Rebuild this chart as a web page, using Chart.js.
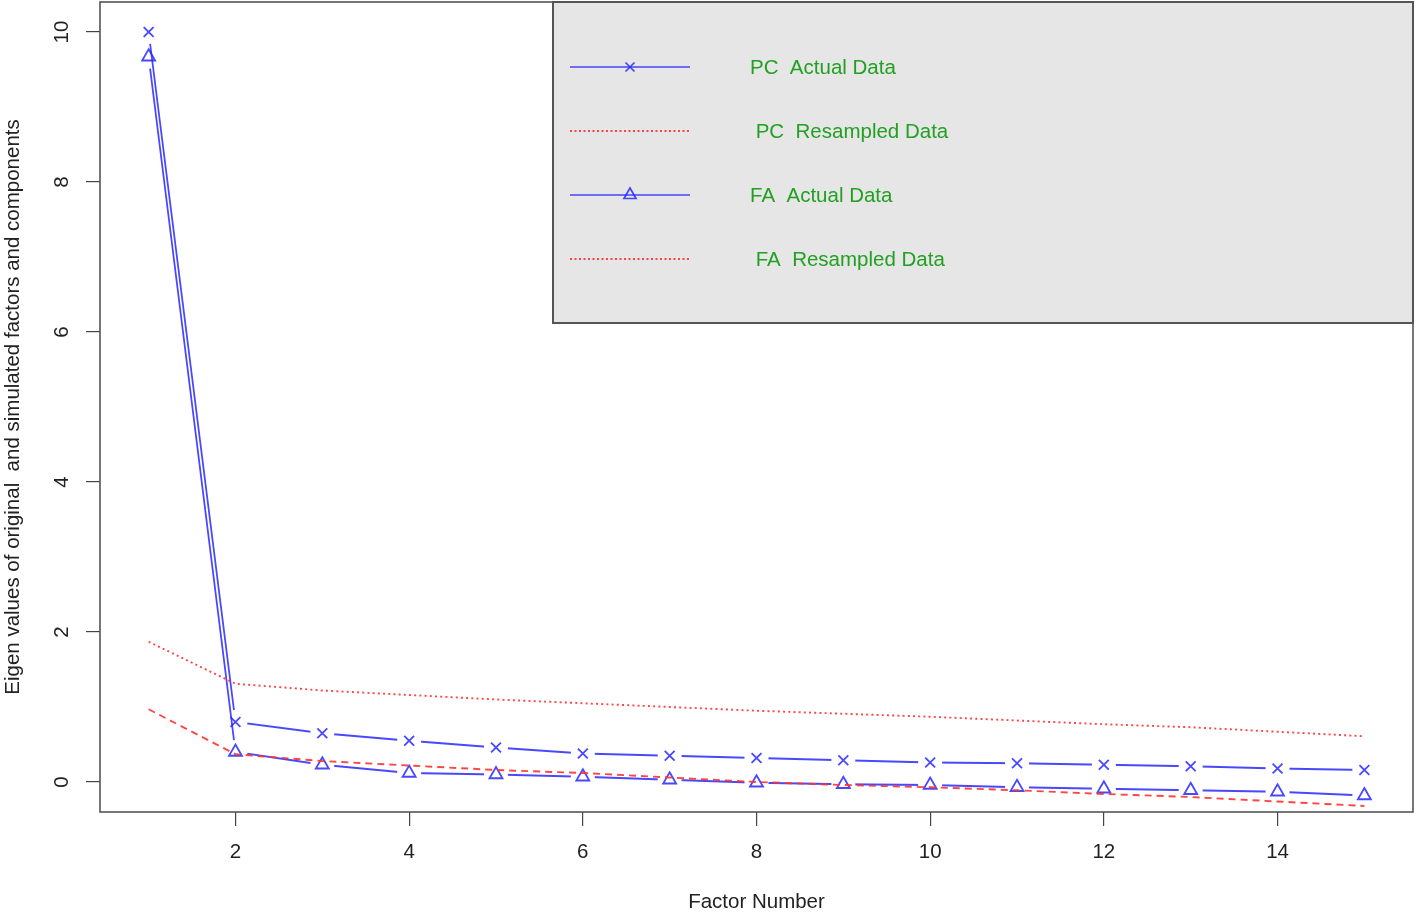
<!DOCTYPE html>
<html>
<head>
<meta charset="utf-8">
<script src="https://cdn.jsdelivr.net/npm/chart.js@4.4.1/dist/chart.umd.min.js"></script>
<style>
  html, body { margin: 0; padding: 0; background: #ffffff; }
  #wrap { width: 1418px; height: 912px; position: relative; }
</style>
</head>
<body>
<div id="wrap"><canvas id="c"></canvas></div>
<script>
// ---- data ----
const factorNumbers = [1, 2, 3, 4, 5, 6, 7, 8, 9, 10, 11, 12, 13, 14, 15];
const pcActual     = [10.00, 0.80, 0.65, 0.55, 0.46, 0.38, 0.35, 0.32, 0.29, 0.26, 0.25, 0.23, 0.21, 0.18, 0.16];
const pcResampled  = [1.87, 1.31, 1.22, 1.16, 1.10, 1.05, 1.00, 0.95, 0.91, 0.87, 0.82, 0.77, 0.73, 0.67, 0.61];
const faActual     = [9.67, 0.40, 0.23, 0.12, 0.10, 0.07, 0.03, -0.01, -0.03, -0.04, -0.07, -0.09, -0.11, -0.13, -0.18];
const faResampled  = [0.97, 0.37, 0.28, 0.22, 0.16, 0.12, 0.06, 0.00, -0.04, -0.07, -0.11, -0.16, -0.20, -0.26, -0.32];
const xTickValues  = [2, 4, 6, 8, 10, 12, 14];
const yTickValues  = [0, 2, 4, 6, 8, 10];
const legendLabels = ['PC  Actual Data', ' PC  Resampled Data', 'FA  Actual Data', ' FA  Resampled Data'];
const xAxisTitle = 'Factor Number';
const yAxisTitle = 'Eigen values of original  and simulated factors and components';

const toPoints = (vals) => vals.map((v, i) => ({ x: factorNumbers[i], y: v }));

const FONT = '"Liberation Sans", Arial, Helvetica, sans-serif';
const BLUE = 'rgba(40,40,255,0.85)';
const RED = 'rgba(255,50,50,0.9)';

// clip circular gaps around points (R type="b" look)
const gapPlugin = {
  id: 'gapPlugin',
  beforeDatasetDraw(chart, args) {
    const ds = chart.data.datasets[args.index];
    if (!ds.gapRadius) return;
    const ctx = chart.ctx;
    const r = ds.gapRadius;
    ctx.save();
    ctx.beginPath();
    ctx.rect(0, 0, chart.width, chart.height);
    args.meta.data.forEach(el => {
      ctx.moveTo(el.x + r, el.y);
      ctx.arc(el.x, el.y, r, 0, Math.PI * 2);
    });
    ctx.clip('evenodd');
  },
  afterDatasetDraw(chart, args) {
    const ds = chart.data.datasets[args.index];
    if (!ds.gapRadius) return;
    chart.ctx.restore();
  }
};

// plot box + R-style legend box
const boxLegendPlugin = {
  id: 'boxLegend',
  afterDraw(chart) {
    const ctx = chart.ctx;
    const a = chart.chartArea;
    ctx.save();
    // legend box
    const lx = 553, ly = a.top, lw = a.right - 553, lh = 321;
    ctx.fillStyle = '#e6e6e6';
    ctx.fillRect(lx, ly, lw, lh);
    ctx.strokeStyle = '#555555';
    ctx.lineWidth = 2;
    ctx.strokeRect(lx, ly, lw, lh);
    // plot box
    ctx.lineWidth = 1.6;
    ctx.strokeStyle = '#555555';
    ctx.strokeRect(a.left, a.top, a.right - a.left, a.bottom - a.top);

    const rows = [67, 131, 195, 259];
    const styles = [
      { color: BLUE, dash: [], marker: 'x' },
      { color: RED, dash: [2, 2.5], marker: null },
      { color: BLUE, dash: [], marker: 'tri' },
      { color: RED, dash: [2, 2.5], marker: null }
    ];
    rows.forEach((y, i) => {
      const s = styles[i];
      ctx.beginPath();
      ctx.setLineDash(s.dash);
      ctx.strokeStyle = s.color;
      ctx.lineWidth = s.dash.length ? 1.8 : 1.7;
      ctx.moveTo(570, y);
      ctx.lineTo(690, y);
      ctx.stroke();
      ctx.setLineDash([]);
      if (s.marker === 'x') {
        const h = 4.5;
        ctx.beginPath();
        ctx.moveTo(630 - h, y - h); ctx.lineTo(630 + h, y + h);
        ctx.moveTo(630 - h, y + h); ctx.lineTo(630 + h, y - h);
        ctx.lineWidth = 1.7;
        ctx.stroke();
      } else if (s.marker === 'tri') {
        ctx.beginPath();
        ctx.moveTo(630, y - 7);
        ctx.lineTo(636, y + 3.5);
        ctx.lineTo(624, y + 3.5);
        ctx.closePath();
        ctx.lineWidth = 1.7;
        ctx.stroke();
      }
      ctx.fillStyle = '#22a022';
      ctx.font = '20.5px ' + FONT;
      ctx.textAlign = 'left';
      ctx.textBaseline = 'middle';
      ctx.fillText(legendLabels[i], 750, y + 1);
    });
    ctx.restore();
  }
};

const zeroPad = (s) => { s.paddingTop = 0; s.paddingBottom = 0; s.paddingLeft = 0; s.paddingRight = 0; };

const ctx = document.getElementById('c').getContext('2d');
new Chart(ctx, {
  type: 'line',
  data: {
    datasets: [
      { label: 'PC Resampled', data: toPoints(pcResampled), borderColor: RED, borderWidth: 1.9,
        borderDash: [2, 3.2], pointRadius: 0, fill: false, tension: 0 },
      { label: 'FA Resampled', data: toPoints(faResampled), borderColor: RED, borderWidth: 1.9,
        borderDash: [7, 5], pointRadius: 0, fill: false, tension: 0 },
      { label: 'PC Actual line', data: toPoints(pcActual), borderColor: BLUE, borderWidth: 1.8,
        pointRadius: 0, fill: false, tension: 0, gapRadius: 12 },
      { label: 'FA Actual line', data: toPoints(faActual), borderColor: BLUE, borderWidth: 1.8,
        pointRadius: 0, fill: false, tension: 0, gapRadius: 12 },
      { label: 'PC Actual', data: toPoints(pcActual), showLine: false, pointStyle: 'crossRot',
        pointRadius: 7, pointBorderColor: BLUE, pointBorderWidth: 1.8, pointBackgroundColor: 'rgba(0,0,0,0)' },
      { label: 'FA Actual', data: toPoints(faActual), showLine: false, pointStyle: 'triangle',
        pointRadius: 7.5, pointBorderColor: BLUE, pointBorderWidth: 1.8, pointBackgroundColor: 'rgba(0,0,0,0)' }
    ]
  },
  options: {
    responsive: true,
    maintainAspectRatio: false,
    animation: false,
    events: [],
    layout: { autoPadding: false, padding: { left: 0, right: 5, top: 2, bottom: 0 } },
    plugins: { legend: { display: false }, tooltip: { enabled: false } },
    scales: {
      x: {
        type: 'linear',
        min: 0.44, max: 15.56,
        afterBuildTicks: (s) => { s.ticks = xTickValues.map(v => ({ value: v })); },
        afterFit: (s) => { s.height = 100; zeroPad(s); },
        border: { display: false },
        grid: { display: true, drawOnChartArea: false, drawTicks: true, tickLength: 14, color: '#444444', lineWidth: 1.2 },
        ticks: { color: '#222222', font: { family: FONT, size: 20.5 }, padding: 14, maxRotation: 0, autoSkip: false },
        title: { display: true, text: xAxisTitle, color: '#222222', font: { family: FONT, size: 20.5 },
                 padding: { top: -3, bottom: -3 } }
      },
      y: {
        type: 'linear',
        min: -0.4, max: 10.4,
        afterBuildTicks: (s) => { s.ticks = yTickValues.map(v => ({ value: v })); },
        afterFit: (s) => { s.width = 100; zeroPad(s); },
        border: { display: false },
        grid: { display: true, drawOnChartArea: false, drawTicks: true, tickLength: 14, color: '#444444', lineWidth: 1.2 },
        ticks: { color: '#222222', font: { family: FONT, size: 20.5 }, padding: 12, minRotation: 90, maxRotation: 90,
                 crossAlign: 'center', autoSkip: false },
        title: { display: true, text: yAxisTitle, color: '#222222', font: { family: FONT, size: 20.5 }, padding: 1 }
      }
    }
  },
  plugins: [gapPlugin, boxLegendPlugin]
});
</script>
</body>
</html>
